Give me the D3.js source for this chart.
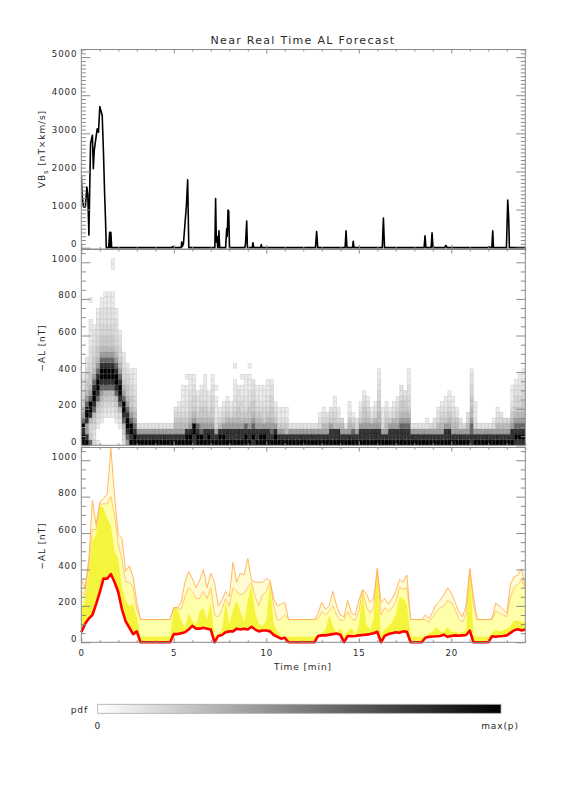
<!DOCTYPE html>
<html><head><meta charset="utf-8">
<script src="https://cdn.jsdelivr.net/npm/d3@7"></script>
<style>body{margin:0;background:#fff}</style>
</head><body>
<svg id="c" width="576" height="792"></svg>
<script>
// ---------------- DATA ----------------
const title = "Near Real Time AL Forecast";
const timeStep = 0.2;               // minutes between forecast samples
const timeTicks = [0, 5, 10, 15, 20];
const vbsTicks = [0, 1000, 2000, 3000, 4000, 5000];
const alTicks = [0, 200, 400, 600, 800, 1000];
const pdfBin = 30;                  // nT per histogram bin
// grey value for each pdf level 0..9 (0 = empty)
const pdfGreys = [255, 237, 228, 218, 205, 188, 160, 105, 50, 0];

// VBs [nT x km/s] as [time(min), value]
const vbsPoints = [
 [0,1900],[0.05,1330],[0.12,1070],[0.22,1070],[0.3,1590],[0.35,1400],[0.41,330],[0.5,2730],[0.6,2950],
 [0.65,2070],[0.7,2550],[0.76,2770],[0.86,3120],[0.93,3030],[1.0,3700],[1.08,3560],[1.13,3470],[1.2,2470],
 [1.26,1420],[1.31,720],[1.35,0],[1.48,0],[1.53,400],[1.57,0],[1.6,400],[1.64,0],
 [4.9,0],[4.94,30],[4.98,0],[5.4,0],[5.43,150],[5.46,30],[5.52,100],[5.6,600],[5.68,1100],[5.75,1780],[5.81,0],
 [7.22,0],[7.26,1290],[7.3,150],[7.34,300],[7.37,0],[7.41,0],[7.44,440],[7.48,0],
 [7.8,0],[7.86,500],[7.89,300],[7.93,990],[7.97,960],[8.01,0],
 [8.84,0],[8.88,120],[8.94,700],[8.98,0],[9.24,0],[9.28,130],[9.32,0],[9.69,0],[9.73,80],[9.77,0],
 [12.66,0],[12.72,420],[12.78,0],[14.26,0],[14.31,440],[14.36,0],[14.66,0],[14.7,170],[14.74,0],
 [16.27,0],[16.33,780],[16.39,0],[18.53,0],[18.58,310],[18.63,0],[18.91,0],[18.96,390],[19.01,0],
 [19.64,0],[19.71,60],[19.77,0],[22.0,0],[22.05,20],[22.1,0],[22.19,0],[22.24,440],[22.28,0],
 [22.98,0],[23.05,1250],[23.1,800],[23.14,0],[24,0]
];

// -AL forecast series, one value every 0.2 min from 0 to 24 min
const alLower = [55,100,130,150,210,275,350,350,375,330,275,180,115,80,45,60,
 0,0,0,0,0,0,0,0,0,
 45,45,50,55,70,90,75,75,80,75,70,0,35,40,55,60,60,75,70,75,70,85,70,60,65,65,60,40,30,20,25,
 0,0,0,0,0,0,0,0,
 35,38,38,42,45,48,42,0,35,33,35,38,40,42,45,50,58,0,35,45,50,55,52,60,58,
 0,0,0,0,
 25,30,32,33,35,42,30,35,38,36,38,40,64,0,
 0,0,0,0,
 33,30,33,35,38,52,66,72,65,70];
const alInner = [185,220,380,560,590,750,740,680,640,500,460,300,230,200,210,140,
 30,30,30,30,30,30,30,30,30,
 185,185,120,80,160,120,95,170,185,130,220,30,40,70,220,100,180,230,170,110,230,320,160,100,90,120,320,100,60,30,30,
 30,30,30,30,30,30,30,30,
 40,50,70,150,90,50,80,30,60,80,40,90,280,100,70,130,400,40,70,90,110,150,250,240,210,
 30,30,30,30,
 30,50,60,85,60,60,85,55,60,50,55,65,400,35,
 30,30,30,30,
 50,70,60,65,75,90,120,120,110,110];
const alMid = [280,260,420,620,620,760,760,760,800,700,540,450,330,330,300,180,
 125,125,125,125,125,125,125,125,125,
 190,190,180,250,300,280,240,240,280,240,300,150,140,180,240,200,300,280,260,270,300,330,250,200,260,280,330,200,120,130,150,
 125,125,125,125,125,125,125,125,
 130,170,150,170,200,150,120,125,170,130,120,170,285,200,160,190,405,150,190,170,190,220,300,290,300,
 125,125,125,125,
 125,110,140,170,190,200,230,220,180,130,110,150,400,200,
 125,125,125,125,
 125,170,160,150,140,250,300,320,340,300];
const alOuter = [350,300,450,780,645,770,790,815,1065,800,590,570,390,420,360,220,
 125,125,125,125,125,125,125,125,125,
 190,190,220,330,390,350,300,340,400,300,380,330,200,230,280,250,440,330,380,370,460,340,330,330,330,350,340,240,200,210,220,
 125,125,125,125,125,125,125,125,
 160,220,180,200,280,200,150,140,230,160,150,230,290,270,220,240,405,220,240,210,240,280,345,330,370,
 125,125,125,125,
 150,130,170,210,230,260,300,270,220,170,140,200,405,250,
 125,125,125,125,
 130,215,200,180,160,320,360,370,405,300];

// pdf histogram: one string per 0.2-min column, one digit per 30-nT bin from 0 up (0=none, 9=max)
const pdfColumns = [
 "9989765433221","9866899765443322","743358997654433222111110001","3223457899876544332221",
 "1001234578998765443322211","000012345678998765443322211","0000012345789987654433222111",
 "00000123457899876544332221110","0000012345789987654433222111000011","0000123457899876543322211",
 "000123578998765433221","23457899765433221","678998765443321","98997654433221","99876543322111",
 "9862","9862","9862","9862","9862","9862","9862","9862","9862","9862",
 "9865432","98654321","98654322111","9985432211101","9986543322111","8899654332211","9987543221",
 "99765443221","9886544322111","9986543221","9886544332211","98632111101","9985321","99864321",
 "988654321","98865321","988654322111001","98865443221","9886543321101","9987543221111",
 "988654432211101","898765443322","98865432211","99865432111","99864332111","988654322111",
 "987654433221","99864321","9864211","9864211","9854211",
 "9862","9862","9862","9862","9862","9862","9862","9862",
 "986321","9865321","986532","9886432","988543211","9885321","98653","9862","98654211","987531",
 "98632","98864321","9886544321","988654321","9886421","98865321","98865544332211","9863211",
 "98654321","9886421","98865321","988654321","98876544322","9887654432","98876543322111",
 "9862","9862","9862","9862",
 "98621","9863","98632","9865321","98654321","988643211","9886543211","986543211","9865421",
 "98632","9863","986532","88776554433221","98632111",
 "9862","9862","9862","9862",
 "98631","9865321","986532","98653","98653","98865432111","898765433221","8987654332211","89876544332211"
];

// ---------------- DRAWING ----------------
const svg = d3.select("#c");
const FONT = "'DejaVu Sans', sans-serif";
const AX = "#8a8a8a", TXT = "#2a2a2a";
const X0 = 81.3, X1 = 525.3;
const x = d3.scaleLinear().domain([0, 24]).range([X0, X1]);

const panels = [
  {top: 49.5, bot: 249, y: d3.scaleLinear().domain([-35, 5200]).range([249, 49.5]), major: vbsTicks, minorStep: 100, maxMinor: 5200},
  {top: 249.5, bot: 445.3, y: d3.scaleLinear().domain([0, 1070]).range([445.3, 249.5]), major: alTicks, minorStep: 50, maxMinor: 1070},
  {top: 447.5, bot: 642.3, y: d3.scaleLinear().domain([0, 1070]).range([642.3, 447.5]), major: alTicks, minorStep: 50, maxMinor: 1070}
];

panels.forEach((p, k) => {
  svg.append("clipPath").attr("id", "clip" + k).append("rect")
    .attr("x", X0).attr("y", p.top).attr("width", X1 - X0).attr("height", p.bot - p.top);
});

const times = alLower.map((_, i) => i * timeStep);

// Panel 1: VBs line
{
  const p = panels[0];
  svg.append("path").datum(vbsPoints)
    .attr("clip-path", "url(#clip0)")
    .attr("fill", "none").attr("stroke", "#000").attr("stroke-width", 1.6).attr("stroke-linejoin", "round")
    .attr("d", d3.line().x(d => x(d[0])).y(d => p.y(d[1])));
}

// Panel 2: pdf histogram
{
  const p = panels[1];
  const cells = [];
  pdfColumns.forEach((s, i) => {
    for (let b = 0; b < s.length; b++) {
      const c = +s[b];
      if (c > 0) cells.push({t: i * timeStep, lo: b * pdfBin, c});
    }
  });
  const grey = v => `rgb(${v},${v},${v})`;
  const g = svg.append("g").attr("clip-path", "url(#clip1)");
  g.selectAll("rect").data(cells).join("rect")
    .attr("x", d => x(d.t) + 0.3).attr("width", d => x(d.t + timeStep) - x(d.t) - 0.6)
    .attr("y", d => p.y(d.lo + pdfBin) + 0.3).attr("height", d => p.y(d.lo) - p.y(d.lo + pdfBin) - 0.6)
    .attr("fill", d => grey(pdfGreys[d.c]))
    .attr("stroke", d => grey(Math.max(0, pdfGreys[d.c] - 28)))
    .attr("stroke-width", 0.6);
}

// Panel 3: forecast bands
{
  const p = panels[2];
  const g = svg.append("g").attr("clip-path", "url(#clip2)");
  const rows = times.map((t, i) => ({t, lo: alLower[i], y: alInner[i], m: alMid[i], o: alOuter[i]}));
  const band = key => d3.area().x(d => x(d.t)).y0(d => p.y(d.lo)).y1(d => p.y(d[key]));
  const ln = key => d3.line().x(d => x(d.t)).y(d => p.y(d[key]));
  g.append("path").datum(rows).attr("fill", "#fffbd2").attr("d", band("o"));
  g.append("path").datum(rows).attr("fill", "#ffffaa").attr("d", band("m"));
  g.append("path").datum(rows).attr("fill", "#f4f43c").attr("d", band("y"));
  g.append("path").datum(rows).attr("fill", "none").attr("stroke", "#ffc070").attr("stroke-width", 0.9).attr("d", ln("m"));
  g.append("path").datum(rows).attr("fill", "none").attr("stroke", "#ffb050").attr("stroke-width", 0.9).attr("d", ln("o"));
  svg.append("path").datum(rows).attr("fill", "none").attr("stroke", "#ff0000").attr("stroke-width", 2.6)
    .attr("stroke-linejoin", "round").attr("d", ln("lo"));
}

// Axes
panels.forEach((p, k) => {
  const minor = d3.range(0, p.maxMinor + 1, p.minorStep).filter(v => p.major.indexOf(v) < 0);
  const xMinor = d3.range(0, 25, 1).filter(v => timeTicks.indexOf(v) < 0);
  const style = g => {
    g.select(".domain").remove();
    g.selectAll("line").attr("stroke", AX).attr("stroke-width", 1);
    g.selectAll("text").attr("fill", TXT).attr("font-family", FONT).attr("font-size", 8.6).style("letter-spacing", "0.9px");
  };
  svg.append("g").attr("transform", `translate(${X0},0)`)
    .call(d3.axisLeft(p.y).tickValues(p.major).tickSize(-9).tickPadding(4).tickFormat(d3.format("d"))).call(style)
    .selectAll("text").attr("dy", "-0.12em");
  svg.append("g").attr("transform", `translate(${X0},0)`)
    .call(d3.axisLeft(p.y).tickValues(minor).tickSize(-4.5).tickFormat("")).call(style);
  svg.append("g").attr("transform", `translate(${X1},0)`)
    .call(d3.axisRight(p.y).tickValues(p.major).tickSize(-9).tickFormat("")).call(style);
  svg.append("g").attr("transform", `translate(${X1},0)`)
    .call(d3.axisRight(p.y).tickValues(minor).tickSize(-4.5).tickFormat("")).call(style);
  svg.append("g").attr("transform", `translate(0,${p.bot})`)
    .call(d3.axisBottom(x).tickValues(timeTicks).tickSize(-4).tickPadding(8)
      .tickFormat(k === 2 ? d3.format("d") : "")).call(style);
  svg.append("g").attr("transform", `translate(0,${p.bot})`)
    .call(d3.axisBottom(x).tickValues(xMinor).tickSize(-2).tickFormat("")).call(style);
  svg.append("g").attr("transform", `translate(0,${p.top})`)
    .call(d3.axisTop(x).tickValues(timeTicks).tickSize(-4).tickFormat("")).call(style);
  svg.append("g").attr("transform", `translate(0,${p.top})`)
    .call(d3.axisTop(x).tickValues(xMinor).tickSize(-2).tickFormat("")).call(style);
  svg.append("rect").attr("x", X0).attr("y", p.top).attr("width", X1 - X0).attr("height", p.bot - p.top)
    .attr("fill", "none").attr("stroke", AX).attr("stroke-width", 1);
});

// Titles
const txt = (s, px, py, size, ls, anchor, rot) => {
  const t = svg.append("text").attr("x", px).attr("y", py).attr("font-family", FONT).attr("font-size", size)
    .attr("fill", TXT).attr("text-anchor", anchor || "middle").style("letter-spacing", ls + "px");
  if (rot) t.attr("transform", `rotate(-90,${px},${py})`);
  return t;
};
txt(title, 303, 44, 11, 1.3).text(title);
const vl = txt("", 45, 149, 9, 0.9, "middle", true);
vl.append("tspan").text("VB");
vl.append("tspan").attr("font-size", 7).attr("dy", 2.5).text("s");
vl.append("tspan").attr("dy", -2.5).text(" [nT×km/s]");
txt("", 45, 348, 9, 0.9, "middle", true).text("−AL [nT]");
txt("", 45, 546, 9, 0.9, "middle", true).text("−AL [nT]");
txt("", 303, 670, 9, 0.9).text("Time [min]");

// Colour bar
const grad = svg.append("defs").append("linearGradient").attr("id", "gbar");
grad.append("stop").attr("offset", "0%").attr("stop-color", "#fff");
grad.append("stop").attr("offset", "100%").attr("stop-color", "#000");
svg.append("rect").attr("x", 97.7).attr("y", 704.3).attr("width", 403.3).attr("height", 9)
  .attr("fill", "url(#gbar)").attr("stroke", "#aaa").attr("stroke-width", 0.8);
txt("", 88, 713, 9, 0.9, "end").text("pdf");
txt("", 97.7, 729, 9, 0.9).text("0");
txt("", 500, 729, 9, 0.9).text("max(p)");
</script>
</body></html>
